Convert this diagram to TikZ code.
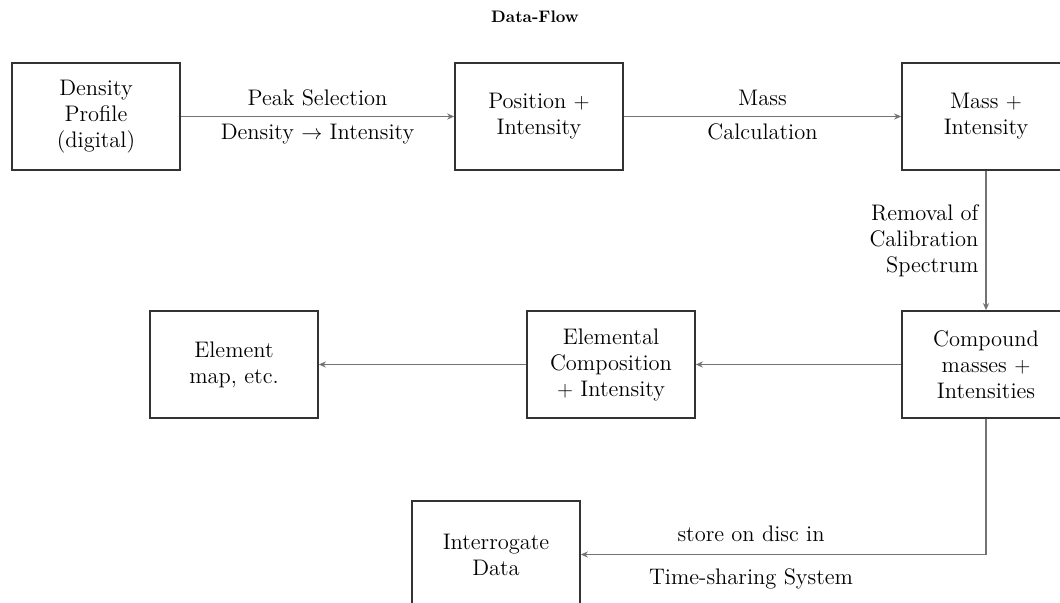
\documentclass[tikz,border=0pt]{standalone}
\usepackage{tikz}
\usetikzlibrary{arrows.meta,positioning}

\begin{document}
\begin{tikzpicture}[x=0.02cm,y=-0.02cm,
	box/.style={draw=black!80,line width=1pt,minimum width=3.36cm,minimum height=2.14cm,align=center,font=\fontsize{12.8}{14.8}\selectfont},
	flow/.style={draw=black!55,line width=0.6pt,-{Stealth[length=4pt,width=3.5pt]}},
	lab/.style={font=\fontsize{12.8}{14.8}\selectfont,inner sep=2pt}]
	\clip (0,0) rectangle (1060,602);
	\node[font=\fontsize{9.5}{11}\selectfont\bfseries] (0) at (535,17) {Data-Flow};
	\node[box] (1) at (96,116.5) {Density\\Profile\\(digital)};
	\node[box] (2) at (539,116.5) {Position $+$\\Intensity};
	\node[box] (3) at (986,116.5) {Mass $+$\\Intensity};
	\node[box] (4) at (986,364.5) {Compound\\masses $+$\\Intensities};
	\node[box] (5) at (611,364.5) {Elemental\\Composition\\$+$ Intensity};
	\node[box] (6) at (234,364.5) {Element\\map, etc.};
	\node[box] (7) at (496,554.5) {Interrogate\\Data};
	
	\path (1) edge[flow] node[lab,above=3.8pt] {Peak Selection} node[lab,below=2pt] {Density $\rightarrow$ Intensity} (2);
	\path (2) edge[flow] node[lab,above=3.8pt] {Mass} node[lab,below=2pt] {Calculation} (3);
	\path (3) edge[flow] node[lab,left=2pt,align=right] {Removal of\\Calibration\\Spectrum} (4);
	\path (4) edge[flow] (5);
	\path (5) edge[flow] (6);
	\draw[flow] (4) |- node[lab,pos=0.79,above=5pt] {store on disc in} node[lab,pos=0.79,below=6pt] {Time-sharing System} (7);
\end{tikzpicture}
\end{document}
